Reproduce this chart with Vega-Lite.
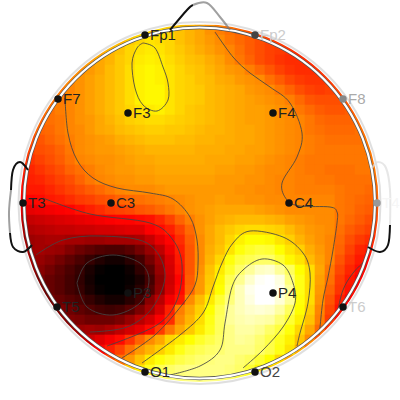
{"$schema":"https://vega.github.io/schema/vega-lite/v6.json","width":400,"height":400,"padding":0,"autosize":"none","background":"white","config":{"view":{"stroke":null}},
"layer":[
{"data":{"values":[
{"x":130,"y":30,"v":66},{"x":140,"y":30,"v":68},{"x":150,"y":30,"v":69},{"x":160,"y":30,"v":69},{"x":170,"y":30,"v":68},{"x":180,"y":30,"v":66},{"x":190,"y":30,"v":64},{"x":200,"y":30,"v":62},{"x":210,"y":30,"v":59},{"x":220,"y":30,"v":56},{"x":230,"y":30,"v":54},{"x":240,"y":30,"v":52},{"x":250,"y":30,"v":50},{"x":260,"y":30,"v":48},{"x":270,"y":30,"v":47},
{"x":110,"y":40,"v":62},{"x":120,"y":40,"v":64},{"x":130,"y":40,"v":67},{"x":140,"y":40,"v":69},{"x":150,"y":40,"v":71},{"x":160,"y":40,"v":70},{"x":170,"y":40,"v":69},{"x":180,"y":40,"v":66},{"x":190,"y":40,"v":64},{"x":200,"y":40,"v":62},{"x":210,"y":40,"v":60},{"x":220,"y":40,"v":58},{"x":230,"y":40,"v":55},{"x":240,"y":40,"v":53},{"x":250,"y":40,"v":51},{"x":260,"y":40,"v":49},{"x":270,"y":40,"v":47},{"x":280,"y":40,"v":46},{"x":290,"y":40,"v":45},
{"x":90,"y":50,"v":60},{"x":100,"y":50,"v":62},{"x":110,"y":50,"v":64},{"x":120,"y":50,"v":66},{"x":130,"y":50,"v":69},{"x":140,"y":50,"v":71},{"x":150,"y":50,"v":72},{"x":160,"y":50,"v":71},{"x":170,"y":50,"v":69},{"x":180,"y":50,"v":67},{"x":190,"y":50,"v":65},{"x":200,"y":50,"v":63},{"x":210,"y":50,"v":61},{"x":220,"y":50,"v":59},{"x":230,"y":50,"v":57},{"x":240,"y":50,"v":54},{"x":250,"y":50,"v":51},{"x":260,"y":50,"v":49},{"x":270,"y":50,"v":47},{"x":280,"y":50,"v":46},{"x":290,"y":50,"v":45},{"x":300,"y":50,"v":44},{"x":310,"y":50,"v":44},
{"x":80,"y":60,"v":58},{"x":90,"y":60,"v":60},{"x":100,"y":60,"v":62},{"x":110,"y":60,"v":64},{"x":120,"y":60,"v":67},{"x":130,"y":60,"v":69},{"x":140,"y":60,"v":72},{"x":150,"y":60,"v":73},{"x":160,"y":60,"v":72},{"x":170,"y":60,"v":70},{"x":180,"y":60,"v":68},{"x":190,"y":60,"v":66},{"x":200,"y":60,"v":65},{"x":210,"y":60,"v":63},{"x":220,"y":60,"v":61},{"x":230,"y":60,"v":58},{"x":240,"y":60,"v":55},{"x":250,"y":60,"v":52},{"x":260,"y":60,"v":49},{"x":270,"y":60,"v":47},{"x":280,"y":60,"v":45},{"x":290,"y":60,"v":44},{"x":300,"y":60,"v":44},{"x":310,"y":60,"v":44},{"x":320,"y":60,"v":45},
{"x":70,"y":70,"v":57},{"x":80,"y":70,"v":58},{"x":90,"y":70,"v":60},{"x":100,"y":70,"v":62},{"x":110,"y":70,"v":65},{"x":120,"y":70,"v":67},{"x":130,"y":70,"v":70},{"x":140,"y":70,"v":73},{"x":150,"y":70,"v":74},{"x":160,"y":70,"v":73},{"x":170,"y":70,"v":71},{"x":180,"y":70,"v":69},{"x":190,"y":70,"v":67},{"x":200,"y":70,"v":66},{"x":210,"y":70,"v":64},{"x":220,"y":70,"v":62},{"x":230,"y":70,"v":60},{"x":240,"y":70,"v":59},{"x":250,"y":70,"v":56},{"x":260,"y":70,"v":53},{"x":270,"y":70,"v":50},{"x":280,"y":70,"v":47},{"x":290,"y":70,"v":45},{"x":300,"y":70,"v":44},{"x":310,"y":70,"v":44},{"x":320,"y":70,"v":45},{"x":330,"y":70,"v":46},
{"x":60,"y":80,"v":55},{"x":70,"y":80,"v":57},{"x":80,"y":80,"v":59},{"x":90,"y":80,"v":61},{"x":100,"y":80,"v":63},{"x":110,"y":80,"v":65},{"x":120,"y":80,"v":67},{"x":130,"y":80,"v":70},{"x":140,"y":80,"v":73},{"x":150,"y":80,"v":74},{"x":160,"y":80,"v":73},{"x":170,"y":80,"v":71},{"x":180,"y":80,"v":69},{"x":190,"y":80,"v":68},{"x":200,"y":80,"v":66},{"x":210,"y":80,"v":65},{"x":220,"y":80,"v":63},{"x":230,"y":80,"v":62},{"x":240,"y":80,"v":60},{"x":250,"y":80,"v":59},{"x":260,"y":80,"v":58},{"x":270,"y":80,"v":54},{"x":280,"y":80,"v":51},{"x":290,"y":80,"v":48},{"x":300,"y":80,"v":46},{"x":310,"y":80,"v":45},{"x":320,"y":80,"v":45},{"x":330,"y":80,"v":46},{"x":340,"y":80,"v":47},
{"x":50,"y":90,"v":53},{"x":60,"y":90,"v":55},{"x":70,"y":90,"v":57},{"x":80,"y":90,"v":59},{"x":90,"y":90,"v":61},{"x":100,"y":90,"v":63},{"x":110,"y":90,"v":65},{"x":120,"y":90,"v":67},{"x":130,"y":90,"v":70},{"x":140,"y":90,"v":73},{"x":150,"y":90,"v":74},{"x":160,"y":90,"v":74},{"x":170,"y":90,"v":71},{"x":180,"y":90,"v":69},{"x":190,"y":90,"v":68},{"x":200,"y":90,"v":67},{"x":210,"y":90,"v":65},{"x":220,"y":90,"v":64},{"x":230,"y":90,"v":63},{"x":240,"y":90,"v":62},{"x":250,"y":90,"v":60},{"x":260,"y":90,"v":59},{"x":270,"y":90,"v":58},{"x":280,"y":90,"v":55},{"x":290,"y":90,"v":52},{"x":300,"y":90,"v":49},{"x":310,"y":90,"v":47},{"x":320,"y":90,"v":46},{"x":330,"y":90,"v":47},{"x":340,"y":90,"v":48},{"x":350,"y":90,"v":49},
{"x":40,"y":100,"v":52},{"x":50,"y":100,"v":54},{"x":60,"y":100,"v":56},{"x":70,"y":100,"v":57},{"x":80,"y":100,"v":59},{"x":90,"y":100,"v":61},{"x":100,"y":100,"v":63},{"x":110,"y":100,"v":65},{"x":120,"y":100,"v":67},{"x":130,"y":100,"v":70},{"x":140,"y":100,"v":73},{"x":150,"y":100,"v":74},{"x":160,"y":100,"v":74},{"x":170,"y":100,"v":71},{"x":180,"y":100,"v":69},{"x":190,"y":100,"v":68},{"x":200,"y":100,"v":67},{"x":210,"y":100,"v":65},{"x":220,"y":100,"v":64},{"x":230,"y":100,"v":63},{"x":240,"y":100,"v":62},{"x":250,"y":100,"v":61},{"x":260,"y":100,"v":60},{"x":270,"y":100,"v":59},{"x":280,"y":100,"v":58},{"x":290,"y":100,"v":56},{"x":300,"y":100,"v":53},{"x":310,"y":100,"v":50},{"x":320,"y":100,"v":49},{"x":330,"y":100,"v":49},{"x":340,"y":100,"v":49},{"x":350,"y":100,"v":50},{"x":360,"y":100,"v":51},
{"x":30,"y":110,"v":50},{"x":40,"y":110,"v":52},{"x":50,"y":110,"v":54},{"x":60,"y":110,"v":56},{"x":70,"y":110,"v":57},{"x":80,"y":110,"v":59},{"x":90,"y":110,"v":61},{"x":100,"y":110,"v":63},{"x":110,"y":110,"v":65},{"x":120,"y":110,"v":67},{"x":130,"y":110,"v":69},{"x":140,"y":110,"v":71},{"x":150,"y":110,"v":72},{"x":160,"y":110,"v":73},{"x":170,"y":110,"v":71},{"x":180,"y":110,"v":69},{"x":190,"y":110,"v":67},{"x":200,"y":110,"v":66},{"x":210,"y":110,"v":65},{"x":220,"y":110,"v":64},{"x":230,"y":110,"v":63},{"x":240,"y":110,"v":62},{"x":250,"y":110,"v":61},{"x":260,"y":110,"v":61},{"x":270,"y":110,"v":60},{"x":280,"y":110,"v":59},{"x":290,"y":110,"v":58},{"x":300,"y":110,"v":55},{"x":310,"y":110,"v":53},{"x":320,"y":110,"v":51},{"x":330,"y":110,"v":50},{"x":340,"y":110,"v":50},{"x":350,"y":110,"v":51},{"x":360,"y":110,"v":52},{"x":370,"y":110,"v":53},
{"x":30,"y":120,"v":50},{"x":40,"y":120,"v":52},{"x":50,"y":120,"v":54},{"x":60,"y":120,"v":55},{"x":70,"y":120,"v":57},{"x":80,"y":120,"v":59},{"x":90,"y":120,"v":60},{"x":100,"y":120,"v":62},{"x":110,"y":120,"v":64},{"x":120,"y":120,"v":66},{"x":130,"y":120,"v":68},{"x":140,"y":120,"v":69},{"x":150,"y":120,"v":70},{"x":160,"y":120,"v":70},{"x":170,"y":120,"v":69},{"x":180,"y":120,"v":68},{"x":190,"y":120,"v":67},{"x":200,"y":120,"v":66},{"x":210,"y":120,"v":65},{"x":220,"y":120,"v":64},{"x":230,"y":120,"v":63},{"x":240,"y":120,"v":62},{"x":250,"y":120,"v":61},{"x":260,"y":120,"v":61},{"x":270,"y":120,"v":60},{"x":280,"y":120,"v":59},{"x":290,"y":120,"v":58},{"x":300,"y":120,"v":57},{"x":310,"y":120,"v":55},{"x":320,"y":120,"v":53},{"x":330,"y":120,"v":52},{"x":340,"y":120,"v":52},{"x":350,"y":120,"v":52},{"x":360,"y":120,"v":53},{"x":370,"y":120,"v":53},
{"x":20,"y":130,"v":49},{"x":30,"y":130,"v":50},{"x":40,"y":130,"v":52},{"x":50,"y":130,"v":53},{"x":60,"y":130,"v":55},{"x":70,"y":130,"v":57},{"x":80,"y":130,"v":58},{"x":90,"y":130,"v":60},{"x":100,"y":130,"v":62},{"x":110,"y":130,"v":63},{"x":120,"y":130,"v":65},{"x":130,"y":130,"v":66},{"x":140,"y":130,"v":67},{"x":150,"y":130,"v":68},{"x":160,"y":130,"v":68},{"x":170,"y":130,"v":67},{"x":180,"y":130,"v":67},{"x":190,"y":130,"v":66},{"x":200,"y":130,"v":65},{"x":210,"y":130,"v":64},{"x":220,"y":130,"v":64},{"x":230,"y":130,"v":63},{"x":240,"y":130,"v":62},{"x":250,"y":130,"v":62},{"x":260,"y":130,"v":61},{"x":270,"y":130,"v":60},{"x":280,"y":130,"v":59},{"x":290,"y":130,"v":58},{"x":300,"y":130,"v":57},{"x":310,"y":130,"v":55},{"x":320,"y":130,"v":54},{"x":330,"y":130,"v":53},{"x":340,"y":130,"v":53},{"x":350,"y":130,"v":53},{"x":360,"y":130,"v":54},{"x":370,"y":130,"v":54},
{"x":20,"y":140,"v":47},{"x":30,"y":140,"v":49},{"x":40,"y":140,"v":50},{"x":50,"y":140,"v":52},{"x":60,"y":140,"v":54},{"x":70,"y":140,"v":56},{"x":80,"y":140,"v":58},{"x":90,"y":140,"v":59},{"x":100,"y":140,"v":60},{"x":110,"y":140,"v":61},{"x":120,"y":140,"v":63},{"x":130,"y":140,"v":64},{"x":140,"y":140,"v":65},{"x":150,"y":140,"v":66},{"x":160,"y":140,"v":66},{"x":170,"y":140,"v":66},{"x":180,"y":140,"v":65},{"x":190,"y":140,"v":65},{"x":200,"y":140,"v":64},{"x":210,"y":140,"v":64},{"x":220,"y":140,"v":63},{"x":230,"y":140,"v":63},{"x":240,"y":140,"v":62},{"x":250,"y":140,"v":62},{"x":260,"y":140,"v":61},{"x":270,"y":140,"v":60},{"x":280,"y":140,"v":59},{"x":290,"y":140,"v":58},{"x":300,"y":140,"v":57},{"x":310,"y":140,"v":56},{"x":320,"y":140,"v":55},{"x":330,"y":140,"v":54},{"x":340,"y":140,"v":54},{"x":350,"y":140,"v":54},{"x":360,"y":140,"v":54},{"x":370,"y":140,"v":55},
{"x":20,"y":150,"v":46},{"x":30,"y":150,"v":47},{"x":40,"y":150,"v":49},{"x":50,"y":150,"v":50},{"x":60,"y":150,"v":52},{"x":70,"y":150,"v":55},{"x":80,"y":150,"v":58},{"x":90,"y":150,"v":59},{"x":100,"y":150,"v":60},{"x":110,"y":150,"v":60},{"x":120,"y":150,"v":61},{"x":130,"y":150,"v":62},{"x":140,"y":150,"v":63},{"x":150,"y":150,"v":64},{"x":160,"y":150,"v":64},{"x":170,"y":150,"v":64},{"x":180,"y":150,"v":64},{"x":190,"y":150,"v":64},{"x":200,"y":150,"v":63},{"x":210,"y":150,"v":63},{"x":220,"y":150,"v":63},{"x":230,"y":150,"v":62},{"x":240,"y":150,"v":62},{"x":250,"y":150,"v":61},{"x":260,"y":150,"v":61},{"x":270,"y":150,"v":60},{"x":280,"y":150,"v":59},{"x":290,"y":150,"v":58},{"x":300,"y":150,"v":57},{"x":310,"y":150,"v":56},{"x":320,"y":150,"v":55},{"x":330,"y":150,"v":55},{"x":340,"y":150,"v":55},{"x":350,"y":150,"v":55},{"x":360,"y":150,"v":55},{"x":370,"y":150,"v":55},{"x":380,"y":150,"v":55},
{"x":20,"y":160,"v":44},{"x":30,"y":160,"v":45},{"x":40,"y":160,"v":47},{"x":50,"y":160,"v":49},{"x":60,"y":160,"v":51},{"x":70,"y":160,"v":54},{"x":80,"y":160,"v":57},{"x":90,"y":160,"v":58},{"x":100,"y":160,"v":59},{"x":110,"y":160,"v":59},{"x":120,"y":160,"v":60},{"x":130,"y":160,"v":61},{"x":140,"y":160,"v":62},{"x":150,"y":160,"v":62},{"x":160,"y":160,"v":63},{"x":170,"y":160,"v":63},{"x":180,"y":160,"v":63},{"x":190,"y":160,"v":63},{"x":200,"y":160,"v":63},{"x":210,"y":160,"v":62},{"x":220,"y":160,"v":62},{"x":230,"y":160,"v":62},{"x":240,"y":160,"v":61},{"x":250,"y":160,"v":61},{"x":260,"y":160,"v":60},{"x":270,"y":160,"v":59},{"x":280,"y":160,"v":58},{"x":290,"y":160,"v":57},{"x":300,"y":160,"v":56},{"x":310,"y":160,"v":55},{"x":320,"y":160,"v":55},{"x":330,"y":160,"v":55},{"x":340,"y":160,"v":55},{"x":350,"y":160,"v":55},{"x":360,"y":160,"v":55},{"x":370,"y":160,"v":55},{"x":380,"y":160,"v":55},
{"x":20,"y":170,"v":42},{"x":30,"y":170,"v":43},{"x":40,"y":170,"v":45},{"x":50,"y":170,"v":47},{"x":60,"y":170,"v":49},{"x":70,"y":170,"v":52},{"x":80,"y":170,"v":54},{"x":90,"y":170,"v":56},{"x":100,"y":170,"v":58},{"x":110,"y":170,"v":59},{"x":120,"y":170,"v":60},{"x":130,"y":170,"v":60},{"x":140,"y":170,"v":61},{"x":150,"y":170,"v":61},{"x":160,"y":170,"v":62},{"x":170,"y":170,"v":62},{"x":180,"y":170,"v":62},{"x":190,"y":170,"v":62},{"x":200,"y":170,"v":62},{"x":210,"y":170,"v":62},{"x":220,"y":170,"v":61},{"x":230,"y":170,"v":61},{"x":240,"y":170,"v":60},{"x":250,"y":170,"v":60},{"x":260,"y":170,"v":59},{"x":270,"y":170,"v":58},{"x":280,"y":170,"v":58},{"x":290,"y":170,"v":57},{"x":300,"y":170,"v":56},{"x":310,"y":170,"v":55},{"x":320,"y":170,"v":55},{"x":330,"y":170,"v":54},{"x":340,"y":170,"v":54},{"x":350,"y":170,"v":54},{"x":360,"y":170,"v":55},{"x":370,"y":170,"v":55},{"x":380,"y":170,"v":55},
{"x":20,"y":180,"v":40},{"x":30,"y":180,"v":42},{"x":40,"y":180,"v":43},{"x":50,"y":180,"v":45},{"x":60,"y":180,"v":47},{"x":70,"y":180,"v":49},{"x":80,"y":180,"v":52},{"x":90,"y":180,"v":55},{"x":100,"y":180,"v":57},{"x":110,"y":180,"v":58},{"x":120,"y":180,"v":59},{"x":130,"y":180,"v":59},{"x":140,"y":180,"v":60},{"x":150,"y":180,"v":60},{"x":160,"y":180,"v":61},{"x":170,"y":180,"v":61},{"x":180,"y":180,"v":61},{"x":190,"y":180,"v":61},{"x":200,"y":180,"v":61},{"x":210,"y":180,"v":61},{"x":220,"y":180,"v":60},{"x":230,"y":180,"v":60},{"x":240,"y":180,"v":60},{"x":250,"y":180,"v":59},{"x":260,"y":180,"v":59},{"x":270,"y":180,"v":58},{"x":280,"y":180,"v":57},{"x":290,"y":180,"v":57},{"x":300,"y":180,"v":56},{"x":310,"y":180,"v":56},{"x":320,"y":180,"v":55},{"x":330,"y":180,"v":55},{"x":340,"y":180,"v":54},{"x":350,"y":180,"v":54},{"x":360,"y":180,"v":54},{"x":370,"y":180,"v":54},{"x":380,"y":180,"v":54},
{"x":20,"y":190,"v":39},{"x":30,"y":190,"v":41},{"x":40,"y":190,"v":41},{"x":50,"y":190,"v":43},{"x":60,"y":190,"v":45},{"x":70,"y":190,"v":47},{"x":80,"y":190,"v":49},{"x":90,"y":190,"v":51},{"x":100,"y":190,"v":53},{"x":110,"y":190,"v":55},{"x":120,"y":190,"v":57},{"x":130,"y":190,"v":58},{"x":140,"y":190,"v":58},{"x":150,"y":190,"v":58},{"x":160,"y":190,"v":59},{"x":170,"y":190,"v":60},{"x":180,"y":190,"v":60},{"x":190,"y":190,"v":60},{"x":200,"y":190,"v":60},{"x":210,"y":190,"v":60},{"x":220,"y":190,"v":60},{"x":230,"y":190,"v":60},{"x":240,"y":190,"v":59},{"x":250,"y":190,"v":59},{"x":260,"y":190,"v":58},{"x":270,"y":190,"v":58},{"x":280,"y":190,"v":57},{"x":290,"y":190,"v":57},{"x":300,"y":190,"v":56},{"x":310,"y":190,"v":56},{"x":320,"y":190,"v":56},{"x":330,"y":190,"v":56},{"x":340,"y":190,"v":55},{"x":350,"y":190,"v":54},{"x":360,"y":190,"v":54},{"x":370,"y":190,"v":53},{"x":380,"y":190,"v":53},
{"x":20,"y":200,"v":37},{"x":30,"y":200,"v":38},{"x":40,"y":200,"v":39},{"x":50,"y":200,"v":41},{"x":60,"y":200,"v":42},{"x":70,"y":200,"v":44},{"x":80,"y":200,"v":46},{"x":90,"y":200,"v":47},{"x":100,"y":200,"v":49},{"x":110,"y":200,"v":50},{"x":120,"y":200,"v":52},{"x":130,"y":200,"v":53},{"x":140,"y":200,"v":54},{"x":150,"y":200,"v":55},{"x":160,"y":200,"v":56},{"x":170,"y":200,"v":57},{"x":180,"y":200,"v":58},{"x":190,"y":200,"v":59},{"x":200,"y":200,"v":60},{"x":210,"y":200,"v":60},{"x":220,"y":200,"v":61},{"x":230,"y":200,"v":60},{"x":240,"y":200,"v":60},{"x":250,"y":200,"v":59},{"x":260,"y":200,"v":59},{"x":270,"y":200,"v":58},{"x":280,"y":200,"v":58},{"x":290,"y":200,"v":57},{"x":300,"y":200,"v":57},{"x":310,"y":200,"v":57},{"x":320,"y":200,"v":57},{"x":330,"y":200,"v":57},{"x":340,"y":200,"v":55},{"x":350,"y":200,"v":54},{"x":360,"y":200,"v":53},{"x":370,"y":200,"v":52},{"x":380,"y":200,"v":52},
{"x":20,"y":210,"v":33},{"x":30,"y":210,"v":34},{"x":40,"y":210,"v":35},{"x":50,"y":210,"v":36},{"x":60,"y":210,"v":37},{"x":70,"y":210,"v":38},{"x":80,"y":210,"v":40},{"x":90,"y":210,"v":42},{"x":100,"y":210,"v":44},{"x":110,"y":210,"v":46},{"x":120,"y":210,"v":47},{"x":130,"y":210,"v":48},{"x":140,"y":210,"v":50},{"x":150,"y":210,"v":51},{"x":160,"y":210,"v":53},{"x":170,"y":210,"v":55},{"x":180,"y":210,"v":57},{"x":190,"y":210,"v":59},{"x":200,"y":210,"v":60},{"x":210,"y":210,"v":61},{"x":220,"y":210,"v":62},{"x":230,"y":210,"v":62},{"x":240,"y":210,"v":62},{"x":250,"y":210,"v":62},{"x":260,"y":210,"v":61},{"x":270,"y":210,"v":60},{"x":280,"y":210,"v":59},{"x":290,"y":210,"v":58},{"x":300,"y":210,"v":58},{"x":310,"y":210,"v":58},{"x":320,"y":210,"v":58},{"x":330,"y":210,"v":58},{"x":340,"y":210,"v":55},{"x":350,"y":210,"v":54},{"x":360,"y":210,"v":52},{"x":370,"y":210,"v":51},{"x":380,"y":210,"v":50},
{"x":20,"y":220,"v":28},{"x":30,"y":220,"v":29},{"x":40,"y":220,"v":30},{"x":50,"y":220,"v":31},{"x":60,"y":220,"v":32},{"x":70,"y":220,"v":33},{"x":80,"y":220,"v":34},{"x":90,"y":220,"v":35},{"x":100,"y":220,"v":36},{"x":110,"y":220,"v":37},{"x":120,"y":220,"v":38},{"x":130,"y":220,"v":38},{"x":140,"y":220,"v":39},{"x":150,"y":220,"v":40},{"x":160,"y":220,"v":43},{"x":170,"y":220,"v":47},{"x":180,"y":220,"v":52},{"x":190,"y":220,"v":56},{"x":200,"y":220,"v":59},{"x":210,"y":220,"v":61},{"x":220,"y":220,"v":63},{"x":230,"y":220,"v":64},{"x":240,"y":220,"v":65},{"x":250,"y":220,"v":65},{"x":260,"y":220,"v":65},{"x":270,"y":220,"v":64},{"x":280,"y":220,"v":63},{"x":290,"y":220,"v":61},{"x":300,"y":220,"v":60},{"x":310,"y":220,"v":59},{"x":320,"y":220,"v":58},{"x":330,"y":220,"v":58},{"x":340,"y":220,"v":55},{"x":350,"y":220,"v":53},{"x":360,"y":220,"v":51},{"x":370,"y":220,"v":49},{"x":380,"y":220,"v":48},
{"x":20,"y":230,"v":25},{"x":30,"y":230,"v":26},{"x":40,"y":230,"v":27},{"x":50,"y":230,"v":28},{"x":60,"y":230,"v":29},{"x":70,"y":230,"v":29},{"x":80,"y":230,"v":30},{"x":90,"y":230,"v":30},{"x":100,"y":230,"v":31},{"x":110,"y":230,"v":31},{"x":120,"y":230,"v":32},{"x":130,"y":230,"v":33},{"x":140,"y":230,"v":33},{"x":150,"y":230,"v":37},{"x":160,"y":230,"v":39},{"x":170,"y":230,"v":42},{"x":180,"y":230,"v":47},{"x":190,"y":230,"v":53},{"x":200,"y":230,"v":59},{"x":210,"y":230,"v":62},{"x":220,"y":230,"v":65},{"x":230,"y":230,"v":67},{"x":240,"y":230,"v":69},{"x":250,"y":230,"v":70},{"x":260,"y":230,"v":70},{"x":270,"y":230,"v":69},{"x":280,"y":230,"v":68},{"x":290,"y":230,"v":65},{"x":300,"y":230,"v":62},{"x":310,"y":230,"v":60},{"x":320,"y":230,"v":59},{"x":330,"y":230,"v":58},{"x":340,"y":230,"v":54},{"x":350,"y":230,"v":51},{"x":360,"y":230,"v":49},{"x":370,"y":230,"v":47},{"x":380,"y":230,"v":46},
{"x":20,"y":240,"v":22},{"x":30,"y":240,"v":23},{"x":40,"y":240,"v":24},{"x":50,"y":240,"v":25},{"x":60,"y":240,"v":25},{"x":70,"y":240,"v":24},{"x":80,"y":240,"v":24},{"x":90,"y":240,"v":23},{"x":100,"y":240,"v":23},{"x":110,"y":240,"v":24},{"x":120,"y":240,"v":24},{"x":130,"y":240,"v":24},{"x":140,"y":240,"v":25},{"x":150,"y":240,"v":29},{"x":160,"y":240,"v":34},{"x":170,"y":240,"v":38},{"x":180,"y":240,"v":44},{"x":190,"y":240,"v":51},{"x":200,"y":240,"v":58},{"x":210,"y":240,"v":62},{"x":220,"y":240,"v":65},{"x":230,"y":240,"v":69},{"x":240,"y":240,"v":73},{"x":250,"y":240,"v":75},{"x":260,"y":240,"v":75},{"x":270,"y":240,"v":74},{"x":280,"y":240,"v":71},{"x":290,"y":240,"v":68},{"x":300,"y":240,"v":64},{"x":310,"y":240,"v":61},{"x":320,"y":240,"v":59},{"x":330,"y":240,"v":57},{"x":340,"y":240,"v":53},{"x":350,"y":240,"v":49},{"x":360,"y":240,"v":46},{"x":370,"y":240,"v":44},{"x":380,"y":240,"v":43},
{"x":20,"y":250,"v":21},{"x":30,"y":250,"v":23},{"x":40,"y":250,"v":24},{"x":50,"y":250,"v":23},{"x":60,"y":250,"v":22},{"x":70,"y":250,"v":19},{"x":80,"y":250,"v":16},{"x":90,"y":250,"v":14},{"x":100,"y":250,"v":12},{"x":110,"y":250,"v":11},{"x":120,"y":250,"v":11},{"x":130,"y":250,"v":13},{"x":140,"y":250,"v":17},{"x":150,"y":250,"v":22},{"x":160,"y":250,"v":28},{"x":170,"y":250,"v":35},{"x":180,"y":250,"v":42},{"x":190,"y":250,"v":50},{"x":200,"y":250,"v":58},{"x":210,"y":250,"v":63},{"x":220,"y":250,"v":66},{"x":230,"y":250,"v":71},{"x":240,"y":250,"v":76},{"x":250,"y":250,"v":79},{"x":260,"y":250,"v":81},{"x":270,"y":250,"v":80},{"x":280,"y":250,"v":75},{"x":290,"y":250,"v":71},{"x":300,"y":250,"v":68},{"x":310,"y":250,"v":63},{"x":320,"y":250,"v":60},{"x":330,"y":250,"v":57},{"x":340,"y":250,"v":52},{"x":350,"y":250,"v":47},{"x":360,"y":250,"v":43},{"x":370,"y":250,"v":41},{"x":380,"y":250,"v":40},
{"x":20,"y":260,"v":23},{"x":30,"y":260,"v":24},{"x":40,"y":260,"v":22},{"x":50,"y":260,"v":20},{"x":60,"y":260,"v":17},{"x":70,"y":260,"v":14},{"x":80,"y":260,"v":11},{"x":90,"y":260,"v":8},{"x":100,"y":260,"v":5},{"x":110,"y":260,"v":3},{"x":120,"y":260,"v":3},{"x":130,"y":260,"v":6},{"x":140,"y":260,"v":10},{"x":150,"y":260,"v":17},{"x":160,"y":260,"v":24},{"x":170,"y":260,"v":32},{"x":180,"y":260,"v":41},{"x":190,"y":260,"v":50},{"x":200,"y":260,"v":58},{"x":210,"y":260,"v":64},{"x":220,"y":260,"v":69},{"x":230,"y":260,"v":76},{"x":240,"y":260,"v":81},{"x":250,"y":260,"v":83},{"x":260,"y":260,"v":85},{"x":270,"y":260,"v":85},{"x":280,"y":260,"v":80},{"x":290,"y":260,"v":74},{"x":300,"y":260,"v":71},{"x":310,"y":260,"v":65},{"x":320,"y":260,"v":61},{"x":330,"y":260,"v":57},{"x":340,"y":260,"v":50},{"x":350,"y":260,"v":45},{"x":360,"y":260,"v":41},{"x":370,"y":260,"v":38},{"x":380,"y":260,"v":37},
{"x":20,"y":270,"v":22},{"x":30,"y":270,"v":22},{"x":40,"y":270,"v":20},{"x":50,"y":270,"v":17},{"x":60,"y":270,"v":14},{"x":70,"y":270,"v":11},{"x":80,"y":270,"v":8},{"x":90,"y":270,"v":4},{"x":100,"y":270,"v":1},{"x":110,"y":270,"v":0},{"x":120,"y":270,"v":0},{"x":130,"y":270,"v":2},{"x":140,"y":270,"v":7},{"x":150,"y":270,"v":13},{"x":160,"y":270,"v":22},{"x":170,"y":270,"v":31},{"x":180,"y":270,"v":40},{"x":190,"y":270,"v":50},{"x":200,"y":270,"v":59},{"x":210,"y":270,"v":66},{"x":220,"y":270,"v":72},{"x":230,"y":270,"v":79},{"x":240,"y":270,"v":85},{"x":250,"y":270,"v":90},{"x":260,"y":270,"v":94},{"x":270,"y":270,"v":95},{"x":280,"y":270,"v":90},{"x":290,"y":270,"v":84},{"x":300,"y":270,"v":75},{"x":310,"y":270,"v":70},{"x":320,"y":270,"v":62},{"x":330,"y":270,"v":55},{"x":340,"y":270,"v":48},{"x":350,"y":270,"v":43},{"x":360,"y":270,"v":39},{"x":370,"y":270,"v":36},{"x":380,"y":270,"v":35},
{"x":20,"y":280,"v":21},{"x":30,"y":280,"v":20},{"x":40,"y":280,"v":18},{"x":50,"y":280,"v":15},{"x":60,"y":280,"v":13},{"x":70,"y":280,"v":10},{"x":80,"y":280,"v":7},{"x":90,"y":280,"v":3},{"x":100,"y":280,"v":0},{"x":110,"y":280,"v":0},{"x":120,"y":280,"v":0},{"x":130,"y":280,"v":1},{"x":140,"y":280,"v":4},{"x":150,"y":280,"v":10},{"x":160,"y":280,"v":20},{"x":170,"y":280,"v":30},{"x":180,"y":280,"v":38},{"x":190,"y":280,"v":51},{"x":200,"y":280,"v":60},{"x":210,"y":280,"v":67},{"x":220,"y":280,"v":74},{"x":230,"y":280,"v":83},{"x":240,"y":280,"v":89},{"x":250,"y":280,"v":95},{"x":260,"y":280,"v":99},{"x":270,"y":280,"v":100},{"x":280,"y":280,"v":97},{"x":290,"y":280,"v":87},{"x":300,"y":280,"v":77},{"x":310,"y":280,"v":70},{"x":320,"y":280,"v":61},{"x":330,"y":280,"v":54},{"x":340,"y":280,"v":46},{"x":350,"y":280,"v":41},{"x":360,"y":280,"v":37},{"x":370,"y":280,"v":34},{"x":380,"y":280,"v":33},
{"x":20,"y":290,"v":20},{"x":30,"y":290,"v":19},{"x":40,"y":290,"v":18},{"x":50,"y":290,"v":15},{"x":60,"y":290,"v":13},{"x":70,"y":290,"v":10},{"x":80,"y":290,"v":8},{"x":90,"y":290,"v":4},{"x":100,"y":290,"v":1},{"x":110,"y":290,"v":0},{"x":120,"y":290,"v":0},{"x":130,"y":290,"v":2},{"x":140,"y":290,"v":6},{"x":150,"y":290,"v":12},{"x":160,"y":290,"v":21},{"x":170,"y":290,"v":31},{"x":180,"y":290,"v":39},{"x":190,"y":290,"v":52},{"x":200,"y":290,"v":60},{"x":210,"y":290,"v":68},{"x":220,"y":290,"v":75},{"x":230,"y":290,"v":85},{"x":240,"y":290,"v":93},{"x":250,"y":290,"v":98},{"x":260,"y":290,"v":100},{"x":270,"y":290,"v":100},{"x":280,"y":290,"v":98},{"x":290,"y":290,"v":90},{"x":300,"y":290,"v":77},{"x":310,"y":290,"v":70},{"x":320,"y":290,"v":60},{"x":330,"y":290,"v":52},{"x":340,"y":290,"v":45},{"x":350,"y":290,"v":40},{"x":360,"y":290,"v":36},{"x":370,"y":290,"v":33},{"x":380,"y":290,"v":32},
{"x":30,"y":300,"v":20},{"x":40,"y":300,"v":19},{"x":50,"y":300,"v":17},{"x":60,"y":300,"v":15},{"x":70,"y":300,"v":13},{"x":80,"y":300,"v":11},{"x":90,"y":300,"v":8},{"x":100,"y":300,"v":5},{"x":110,"y":300,"v":3},{"x":120,"y":300,"v":3},{"x":130,"y":300,"v":6},{"x":140,"y":300,"v":10},{"x":150,"y":300,"v":20},{"x":160,"y":300,"v":27},{"x":170,"y":300,"v":36},{"x":180,"y":300,"v":41},{"x":190,"y":300,"v":58},{"x":200,"y":300,"v":65},{"x":210,"y":300,"v":72},{"x":220,"y":300,"v":80},{"x":230,"y":300,"v":87},{"x":240,"y":300,"v":93},{"x":250,"y":300,"v":97},{"x":260,"y":300,"v":100},{"x":270,"y":300,"v":100},{"x":280,"y":300,"v":96},{"x":290,"y":300,"v":90},{"x":300,"y":300,"v":76},{"x":310,"y":300,"v":70},{"x":320,"y":300,"v":59},{"x":330,"y":300,"v":50},{"x":340,"y":300,"v":42},{"x":350,"y":300,"v":38},{"x":360,"y":300,"v":35},{"x":370,"y":300,"v":33},
{"x":40,"y":310,"v":21},{"x":50,"y":310,"v":20},{"x":60,"y":310,"v":18},{"x":70,"y":310,"v":16},{"x":80,"y":310,"v":14},{"x":90,"y":310,"v":12},{"x":100,"y":310,"v":10},{"x":110,"y":310,"v":9},{"x":120,"y":310,"v":10},{"x":130,"y":310,"v":13},{"x":140,"y":310,"v":18},{"x":150,"y":310,"v":24},{"x":160,"y":310,"v":31},{"x":170,"y":310,"v":42},{"x":180,"y":310,"v":56},{"x":190,"y":310,"v":62},{"x":200,"y":310,"v":68},{"x":210,"y":310,"v":75},{"x":220,"y":310,"v":83},{"x":230,"y":310,"v":90},{"x":240,"y":310,"v":93},{"x":250,"y":310,"v":95},{"x":260,"y":310,"v":96},{"x":270,"y":310,"v":95},{"x":280,"y":310,"v":91},{"x":290,"y":310,"v":84},{"x":300,"y":310,"v":75},{"x":310,"y":310,"v":68},{"x":320,"y":310,"v":57},{"x":330,"y":310,"v":48},{"x":340,"y":310,"v":40},{"x":350,"y":310,"v":36},{"x":360,"y":310,"v":35},
{"x":50,"y":320,"v":22},{"x":60,"y":320,"v":21},{"x":70,"y":320,"v":19},{"x":80,"y":320,"v":18},{"x":90,"y":320,"v":16},{"x":100,"y":320,"v":16},{"x":110,"y":320,"v":16},{"x":120,"y":320,"v":18},{"x":130,"y":320,"v":22},{"x":140,"y":320,"v":27},{"x":150,"y":320,"v":31},{"x":160,"y":320,"v":37},{"x":170,"y":320,"v":44},{"x":180,"y":320,"v":58},{"x":190,"y":320,"v":64},{"x":200,"y":320,"v":70},{"x":210,"y":320,"v":77},{"x":220,"y":320,"v":84},{"x":230,"y":320,"v":90},{"x":240,"y":320,"v":92},{"x":250,"y":320,"v":93},{"x":260,"y":320,"v":92},{"x":270,"y":320,"v":91},{"x":280,"y":320,"v":86},{"x":290,"y":320,"v":80},{"x":300,"y":320,"v":73},{"x":310,"y":320,"v":66},{"x":320,"y":320,"v":56},{"x":330,"y":320,"v":46},{"x":340,"y":320,"v":39},{"x":350,"y":320,"v":36},
{"x":60,"y":330,"v":24},{"x":70,"y":330,"v":23},{"x":80,"y":330,"v":23},{"x":90,"y":330,"v":24},{"x":100,"y":330,"v":23},{"x":110,"y":330,"v":25},{"x":120,"y":330,"v":28},{"x":130,"y":330,"v":31},{"x":140,"y":330,"v":34},{"x":150,"y":330,"v":39},{"x":160,"y":330,"v":46},{"x":170,"y":330,"v":55},{"x":180,"y":330,"v":62},{"x":190,"y":330,"v":67},{"x":200,"y":330,"v":72},{"x":210,"y":330,"v":78},{"x":220,"y":330,"v":84},{"x":230,"y":330,"v":88},{"x":240,"y":330,"v":91},{"x":250,"y":330,"v":91},{"x":260,"y":330,"v":89},{"x":270,"y":330,"v":85},{"x":280,"y":330,"v":81},{"x":290,"y":330,"v":76},{"x":300,"y":330,"v":69},{"x":310,"y":330,"v":62},{"x":320,"y":330,"v":53},{"x":330,"y":330,"v":44},{"x":340,"y":330,"v":38},
{"x":70,"y":340,"v":27},{"x":80,"y":340,"v":28},{"x":90,"y":340,"v":30},{"x":100,"y":340,"v":33},{"x":110,"y":340,"v":36},{"x":120,"y":340,"v":39},{"x":130,"y":340,"v":45},{"x":140,"y":340,"v":52},{"x":150,"y":340,"v":58},{"x":160,"y":340,"v":62},{"x":170,"y":340,"v":69},{"x":180,"y":340,"v":72},{"x":190,"y":340,"v":75},{"x":200,"y":340,"v":79},{"x":210,"y":340,"v":82},{"x":220,"y":340,"v":85},{"x":230,"y":340,"v":88},{"x":240,"y":340,"v":90},{"x":250,"y":340,"v":89},{"x":260,"y":340,"v":86},{"x":270,"y":340,"v":82},{"x":280,"y":340,"v":78},{"x":290,"y":340,"v":73},{"x":300,"y":340,"v":66},{"x":310,"y":340,"v":58},{"x":320,"y":340,"v":49},{"x":330,"y":340,"v":43},
{"x":80,"y":350,"v":32},{"x":90,"y":350,"v":35},{"x":100,"y":350,"v":38},{"x":110,"y":350,"v":42},{"x":120,"y":350,"v":47},{"x":130,"y":350,"v":54},{"x":140,"y":350,"v":60},{"x":150,"y":350,"v":64},{"x":160,"y":350,"v":68},{"x":170,"y":350,"v":72},{"x":180,"y":350,"v":77},{"x":190,"y":350,"v":81},{"x":200,"y":350,"v":83},{"x":210,"y":350,"v":85},{"x":220,"y":350,"v":86},{"x":230,"y":350,"v":88},{"x":240,"y":350,"v":88},{"x":250,"y":350,"v":88},{"x":260,"y":350,"v":85},{"x":270,"y":350,"v":82},{"x":280,"y":350,"v":77},{"x":290,"y":350,"v":71},{"x":300,"y":350,"v":63},{"x":310,"y":350,"v":55},{"x":320,"y":350,"v":47},
{"x":100,"y":360,"v":44},{"x":110,"y":360,"v":48},{"x":120,"y":360,"v":54},{"x":130,"y":360,"v":60},{"x":140,"y":360,"v":66},{"x":150,"y":360,"v":72},{"x":160,"y":360,"v":76},{"x":170,"y":360,"v":79},{"x":180,"y":360,"v":82},{"x":190,"y":360,"v":84},{"x":200,"y":360,"v":86},{"x":210,"y":360,"v":87},{"x":220,"y":360,"v":88},{"x":230,"y":360,"v":88},{"x":240,"y":360,"v":86},{"x":250,"y":360,"v":84},{"x":260,"y":360,"v":80},{"x":270,"y":360,"v":75},{"x":280,"y":360,"v":69},{"x":290,"y":360,"v":62},{"x":300,"y":360,"v":55},
{"x":120,"y":370,"v":60},{"x":130,"y":370,"v":67},{"x":140,"y":370,"v":72},{"x":150,"y":370,"v":78},{"x":160,"y":370,"v":83},{"x":170,"y":370,"v":85},{"x":180,"y":370,"v":87},{"x":190,"y":370,"v":88},{"x":200,"y":370,"v":88},{"x":210,"y":370,"v":88},{"x":220,"y":370,"v":88},{"x":230,"y":370,"v":87},{"x":240,"y":370,"v":85},{"x":250,"y":370,"v":80},{"x":260,"y":370,"v":74},{"x":270,"y":370,"v":68},{"x":280,"y":370,"v":62},
{"x":160,"y":380,"v":84},{"x":170,"y":380,"v":86},{"x":180,"y":380,"v":87},{"x":190,"y":380,"v":88},{"x":200,"y":380,"v":88},{"x":210,"y":380,"v":88},{"x":220,"y":380,"v":88},{"x":230,"y":380,"v":86},{"x":240,"y":380,"v":82},{"x":250,"y":380,"v":78}
]},"mark":{"type":"rect","width":10.6,"height":10.6},"encoding":{"x":{"field":"x","type":"quantitative","scale":{"domain":[0,400],"range":[0,400],"nice":false,"zero":false},"axis":null},"y":{"field":"y","type":"quantitative","scale":{"domain":[0,400],"range":[0,400],"nice":false,"zero":false},"axis":null},"color":{"field":"v","type":"quantitative","scale":{"domain":[0,37.5,75,100],"range":["#000000","#ff0000","#ffff00","#ffffff"],"interpolate":"rgb"},"legend":null}}},
{"data":{"values":[
{"s":"a","i":0,"x":77,"y":283},{"s":"a","i":1,"x":87,"y":263},{"s":"a","i":2,"x":113,"y":255},{"s":"a","i":3,"x":140,"y":263},{"s":"a","i":4,"x":149,"y":280},{"s":"a","i":5,"x":140,"y":303},{"s":"a","i":6,"x":113,"y":315},{"s":"a","i":7,"x":87,"y":307},{"s":"a","i":8,"x":77,"y":283},
{"s":"b","i":0,"x":36,"y":255},{"s":"b","i":1,"x":63,"y":240},{"s":"b","i":2,"x":100,"y":236},{"s":"b","i":3,"x":147,"y":243},{"s":"b","i":4,"x":165,"y":273},{"s":"b","i":5,"x":153,"y":307},{"s":"b","i":6,"x":127,"y":327},{"s":"b","i":7,"x":90,"y":332},
{"s":"c","i":0,"x":43,"y":198},{"s":"c","i":1,"x":90,"y":214},{"s":"c","i":2,"x":150,"y":223},{"s":"c","i":3,"x":173,"y":240},{"s":"c","i":4,"x":182,"y":265},{"s":"c","i":5,"x":177,"y":300},{"s":"c","i":6,"x":157,"y":325},{"s":"c","i":7,"x":107,"y":346},
{"s":"d","i":0,"x":65,"y":98},{"s":"d","i":1,"x":68,"y":133},{"s":"d","i":2,"x":77,"y":160},{"s":"d","i":3,"x":93,"y":178},{"s":"d","i":4,"x":117,"y":188},{"s":"d","i":5,"x":150,"y":193},{"s":"d","i":6,"x":173,"y":199},{"s":"d","i":7,"x":190,"y":217},{"s":"d","i":8,"x":197,"y":240},{"s":"d","i":9,"x":198,"y":265},{"s":"d","i":10,"x":195,"y":285},{"s":"d","i":11,"x":182,"y":305},{"s":"d","i":12,"x":155,"y":335},{"s":"d","i":13,"x":122,"y":358},
{"s":"e","i":0,"x":215,"y":32},{"s":"e","i":1,"x":233,"y":57},{"s":"e","i":2,"x":250,"y":73},{"s":"e","i":3,"x":270,"y":87},{"s":"e","i":4,"x":290,"y":103},{"s":"e","i":5,"x":302,"y":133},{"s":"e","i":6,"x":297,"y":157},{"s":"e","i":7,"x":282,"y":183},{"s":"e","i":8,"x":287,"y":200},{"s":"e","i":9,"x":300,"y":206},{"s":"e","i":10,"x":330,"y":207},{"s":"e","i":11,"x":337,"y":212},{"s":"e","i":12,"x":337,"y":223},{"s":"e","i":13,"x":333,"y":250},{"s":"e","i":14,"x":328,"y":277},{"s":"e","i":15,"x":323,"y":300},{"s":"e","i":16,"x":320,"y":327},{"s":"e","i":17,"x":319,"y":335},
{"s":"f","i":0,"x":143,"y":43},{"s":"f","i":1,"x":155,"y":48},{"s":"f","i":2,"x":163,"y":67},{"s":"f","i":3,"x":168,"y":83},{"s":"f","i":4,"x":168,"y":100},{"s":"f","i":5,"x":157,"y":111},{"s":"f","i":6,"x":143,"y":105},{"s":"f","i":7,"x":135,"y":88},{"s":"f","i":8,"x":132,"y":63},{"s":"f","i":9,"x":137,"y":48},{"s":"f","i":10,"x":143,"y":43},
{"s":"g","i":0,"x":297,"y":346},{"s":"g","i":1,"x":300,"y":333},{"s":"g","i":2,"x":308,"y":303},{"s":"g","i":3,"x":310,"y":273},{"s":"g","i":4,"x":303,"y":253},{"s":"g","i":5,"x":283,"y":237},{"s":"g","i":6,"x":250,"y":231},{"s":"g","i":7,"x":233,"y":243},{"s":"g","i":8,"x":222,"y":263},{"s":"g","i":9,"x":213,"y":287},{"s":"g","i":10,"x":203,"y":313},{"s":"g","i":11,"x":180,"y":335},{"s":"g","i":12,"x":142,"y":363},
{"s":"h","i":0,"x":243,"y":368},{"s":"h","i":1,"x":263,"y":350},{"s":"h","i":2,"x":283,"y":327},{"s":"h","i":3,"x":295,"y":303},{"s":"h","i":4,"x":293,"y":283},{"s":"h","i":5,"x":283,"y":265},{"s":"h","i":6,"x":262,"y":259},{"s":"h","i":7,"x":243,"y":270},{"s":"h","i":8,"x":232,"y":287},{"s":"h","i":9,"x":225,"y":323},{"s":"h","i":10,"x":220,"y":350},{"s":"h","i":11,"x":200,"y":366},{"s":"h","i":12,"x":170,"y":375},
{"s":"j","i":0,"x":368,"y":258},{"s":"j","i":1,"x":353,"y":273},{"s":"j","i":2,"x":343,"y":290},{"s":"j","i":3,"x":338,"y":310}
]},"mark":{"type":"line","interpolate":"cardinal","stroke":"#444444","strokeWidth":1,"opacity":0.85},"encoding":{"x":{"field":"x","type":"quantitative"},"y":{"field":"y","type":"quantitative"},"detail":{"field":"s"},"order":{"field":"i","type":"quantitative"}}},
{"data":{"values":[{"x":199.5,"y":203}]},"layer":[
{"mark":{"type":"point","filled":false,"shape":"circle","size":150544,"stroke":"#ffffff","strokeWidth":30,"opacity":1},"encoding":{"x":{"field":"x","type":"quantitative"},"y":{"field":"y","type":"quantitative"}}},
{"mark":{"type":"point","filled":false,"shape":"circle","size":131044,"stroke":"#999999","strokeWidth":2,"opacity":0.3},"encoding":{"x":{"field":"x","type":"quantitative"},"y":{"field":"y","type":"quantitative"}}},
{"mark":{"type":"point","filled":false,"shape":"circle","size":123201,"stroke":"#555555","strokeWidth":3.5,"opacity":1},"encoding":{"x":{"field":"x","type":"quantitative"},"y":{"field":"y","type":"quantitative"}}},
{"mark":{"type":"point","filled":false,"shape":"circle","size":123201,"stroke":"#ffffff","strokeWidth":2.2,"opacity":1},"encoding":{"x":{"field":"x","type":"quantitative"},"y":{"field":"y","type":"quantitative"}}}
]},
{"data":{"values":[
{"s":"earL","i":0,"x":28,"y":170},{"s":"earL","i":1,"x":20,"y":162},{"s":"earL","i":2,"x":13,"y":170},{"s":"earL","i":3,"x":11,"y":190},
{"s":"earL2","i":0,"x":10,"y":233},{"s":"earL2","i":1,"x":13,"y":247},{"s":"earL2","i":2,"x":23,"y":252},{"s":"earL2","i":3,"x":32,"y":245},
{"s":"earR","i":0,"x":368,"y":247},{"s":"earR","i":1,"x":380,"y":252},{"s":"earR","i":2,"x":388,"y":245},{"s":"earR","i":3,"x":390,"y":225},
{"s":"nose","i":0,"x":170,"y":30},{"s":"nose","i":1,"x":187,"y":10},{"s":"nose","i":2,"x":193,"y":5}
]},"mark":{"type":"line","stroke":"#111111","strokeWidth":2,"interpolate":"cardinal"},"encoding":{"x":{"field":"x","type":"quantitative"},"y":{"field":"y","type":"quantitative"},"detail":{"field":"s"},"order":{"field":"i","type":"quantitative"}}},
{"data":{"values":[
{"s":"earLm","i":0,"x":11,"y":190},{"s":"earLm","i":1,"x":9,"y":212},{"s":"earLm","i":2,"x":10,"y":233},
{"s":"noseR","i":0,"x":193,"y":5},{"s":"noseR","i":1,"x":207,"y":3},{"s":"noseR","i":2,"x":220,"y":17},{"s":"noseR","i":3,"x":230,"y":30}
]},"mark":{"type":"line","stroke":"#777777","strokeWidth":2,"opacity":0.7,"interpolate":"cardinal"},"encoding":{"x":{"field":"x","type":"quantitative"},"y":{"field":"y","type":"quantitative"},"detail":{"field":"s"},"order":{"field":"i","type":"quantitative"}}},
{"data":{"values":[
{"s":"earRt","i":0,"x":372,"y":168},{"s":"earRt","i":1,"x":378,"y":162},{"s":"earRt","i":2,"x":386,"y":168},{"s":"earRt","i":3,"x":390,"y":190},{"s":"earRt","i":4,"x":390,"y":225}
]},"mark":{"type":"line","stroke":"#dddddd","strokeWidth":2,"opacity":0.7,"interpolate":"cardinal"},"encoding":{"x":{"field":"x","type":"quantitative"},"y":{"field":"y","type":"quantitative"},"detail":{"field":"s"},"order":{"field":"i","type":"quantitative"}}},
{"data":{"values":[
{"name":"Fp1","x":145,"y":35},{"name":"Fp2","x":255,"y":35},{"name":"F7","x":58,"y":99},{"name":"F3","x":128,"y":113},{"name":"F4","x":273,"y":113},{"name":"F8","x":343,"y":99},{"name":"T3","x":23,"y":203},{"name":"C3","x":111,"y":203},{"name":"C4","x":289,"y":203},{"name":"T4","x":377,"y":203},{"name":"T5","x":57,"y":307},{"name":"P3","x":128,"y":293},{"name":"P4","x":273,"y":293},{"name":"T6","x":343,"y":307},{"name":"O1","x":145,"y":372},{"name":"O2","x":255,"y":372}
]},"layer":[
{"mark":{"type":"point","filled":true,"shape":"circle","size":56,"opacity":1},"encoding":{"x":{"field":"x","type":"quantitative"},"y":{"field":"y","type":"quantitative"},"stroke":{"value":null},"fill":{"field":"name","type":"nominal","legend":null,"scale":{"domain":["Fp1","Fp2","F7","F3","F4","F8","T3","C3","C4","T4","T5","P3","P4","T6","O1","O2"],"range":["#111111","#444444","#111111","#111111","#111111","#888888","#111111","#111111","#111111","#999999","#111111","#111111","#111111","#111111","#111111","#111111"]}}},"resolve":{"scale":{"fill":"independent"}}},
{"mark":{"type":"text","align":"left","baseline":"middle","dx":5,"fontSize":15,"font":"Liberation Sans"},"encoding":{"x":{"field":"x","type":"quantitative"},"y":{"field":"y","type":"quantitative"},"text":{"field":"name"},"fill":{"field":"name","type":"nominal","legend":null,"scale":{"domain":["Fp1","Fp2","F7","F3","F4","F8","T3","C3","C4","T4","T5","P3","P4","T6","O1","O2"],"range":["#222222","#cccccc","#222222","#222222","#222222","#aaaaaa","#222222","#222222","#222222","#f6f6f6","#222222","#222222","#222222","#cccccc","#222222","#444444"]}}}}
],"resolve":{"scale":{"fill":"independent"}}}
]}
